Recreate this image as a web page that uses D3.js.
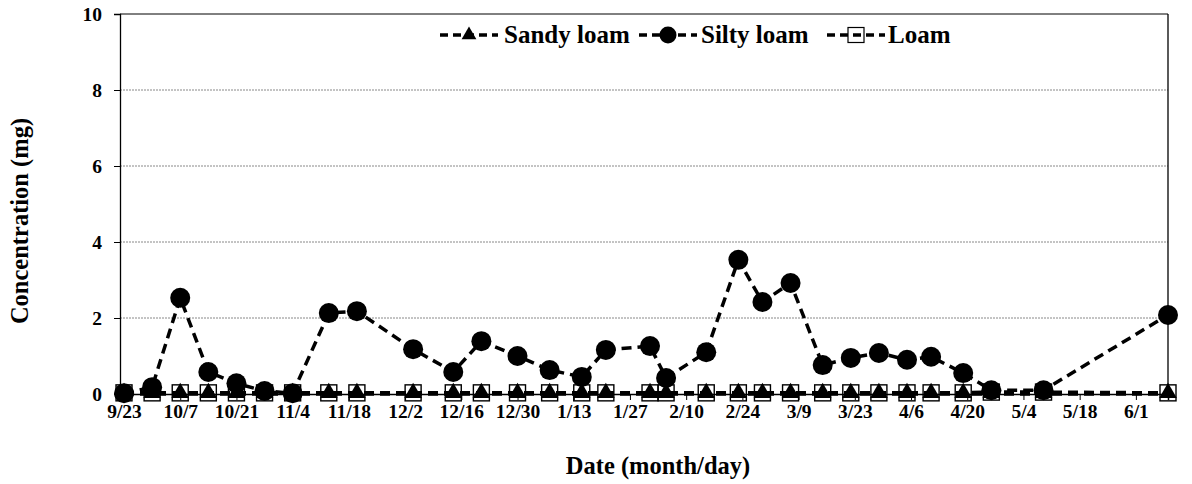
<!DOCTYPE html>
<html><head><meta charset="utf-8">
<script src="https://cdn.jsdelivr.net/npm/d3@7"></script>
<style>
body{margin:0;background:#fff;}
svg text{font-family:"Liberation Serif","Times New Roman",Times,serif;font-weight:bold;fill:#000;}
</style></head>
<body><svg id="c" width="1192" height="484"></svg>
<script>
const dates = ["2011-09-23","2011-09-30","2011-10-07","2011-10-14","2011-10-21","2011-10-28","2011-11-04","2011-11-13","2011-11-20","2011-12-04","2011-12-14","2011-12-21","2011-12-30","2012-01-07","2012-01-15","2012-01-21","2012-02-01","2012-02-05","2012-02-15","2012-02-23","2012-02-29","2012-03-07","2012-03-15","2012-03-22","2012-03-29","2012-04-05","2012-04-11","2012-04-19","2012-04-26","2012-05-09","2012-06-09"];
const sandyLoam = [0,0,0,0,0,0,0,0,0,0,0,0,0,0,0,0,0,0,0,0,0,0,0,0,0,0,0,0,0,0,0];
const siltyLoam = [0.02,0.18,2.53,0.58,0.28,0.08,0.02,2.13,2.18,1.18,0.58,1.39,1.0,0.63,0.45,1.16,1.26,0.42,1.1,3.53,2.42,2.92,0.76,0.95,1.08,0.9,0.98,0.55,0.1,0.1,2.08];
const loam = [0.03,0.03,0.03,0.03,0.03,0.03,0.03,0.03,0.03,0.03,0.03,0.03,0.03,0.03,0.03,0.03,0.03,0.03,0.03,0.03,0.03,0.03,0.03,0.03,0.03,0.03,0.03,0.03,0.05,0.05,0.03];
const tickDates = ["2011-09-23","2011-10-07","2011-10-21","2011-11-04","2011-11-18","2011-12-02","2011-12-16","2011-12-30","2012-01-13","2012-01-27","2012-02-10","2012-02-24","2012-03-09","2012-03-23","2012-04-06","2012-04-20","2012-05-04","2012-05-18","2012-06-01"];
const yTicks = [0,2,4,6,8,10];
const seriesNames = ["Sandy loam","Silty loam","Loam"];

const FONT = '"Liberation Serif","Times New Roman",Times,serif';
const parse = d3.timeParse("%Y-%m-%d");
const svg = d3.select("#c");
const L=120,R=1168,T=14,B=394;
const x = d3.scaleTime().domain([parse("2011-09-22"), parse("2012-06-09")]).range([L,R]);
const y = d3.scaleLinear().domain([0,10]).range([B,T]);

svg.append("g").selectAll("line").data(yTicks.filter(v=>v>0 && v<10)).join("line")
  .attr("x1",L).attr("x2",R).attr("y1",d=>y(d)).attr("y2",d=>y(d))
  .attr("stroke","#888").attr("stroke-width",1).attr("stroke-dasharray","2,1");
svg.append("line").attr("x1",L).attr("x2",R).attr("y1",T).attr("y2",T).attr("stroke","#000").attr("stroke-width",1);
svg.append("line").attr("x1",R).attr("x2",R).attr("y1",T).attr("y2",B).attr("stroke","#000").attr("stroke-width",1.3);

const yAxis = svg.append("g").attr("transform",`translate(${L},0)`)
  .call(d3.axisLeft(y).tickValues(yTicks).tickFormat(d3.format("d")).tickSize(6).tickPadding(12));
yAxis.attr("font-family",FONT);
yAxis.select(".domain").attr("stroke","#000").attr("stroke-width",1.3);
yAxis.selectAll("text").style("font-size","19.5px");
const xAxis = svg.append("g").attr("transform",`translate(0,${B})`)
  .call(d3.axisBottom(x).tickValues(tickDates.map(parse)).tickFormat(d3.timeFormat("%-m/%-d")).tickSize(6).tickPadding(4));
xAxis.attr("font-family",FONT);
xAxis.select(".domain").attr("stroke","#000").attr("stroke-width",1.5);
xAxis.selectAll("text").style("font-size","19.5px");

svg.append("text").attr("x",658).attr("y",474).attr("text-anchor","middle").style("font-size","24.5px").text("Date (month/day)");
svg.append("text").attr("transform","translate(28,221) rotate(-90)").attr("text-anchor","middle").style("font-size","24.5px").text("Concentration (mg)");

const pts = arr => arr.map((v,i)=>({d:parse(dates[i]),v}));
const line = d3.line().x(p=>x(p.d)).y(p=>y(p.v));
const dash = "10,6";
const triPath = d3.symbol().type(d3.symbolTriangle).size(135)();
const series = [
  {name:seriesNames[2], data:pts(loam), kind:"square"},
  {name:seriesNames[0], data:pts(sandyLoam), kind:"tri"},
  {name:seriesNames[1], data:pts(siltyLoam), kind:"circle"}
];
function marker(g,kind){
  if(kind==="circle") g.append("circle").attr("r",10).attr("fill","#000");
  else if(kind==="tri") g.append("path").attr("d",triPath).attr("fill","#000").attr("transform","translate(0,-1)");
  else g.append("rect").attr("x",-8).attr("y",-8).attr("width",16).attr("height",16).attr("fill","none").attr("stroke","#000").attr("stroke-width",1.4);
}
series.forEach(s=>{
  svg.append("path").datum(s.data).attr("d",line).attr("fill","none").attr("stroke","#000").attr("stroke-width",3.5).attr("stroke-dasharray",dash);
});
series.forEach(s=>{
  svg.append("g").selectAll("g").data(s.data).join("g")
    .attr("transform",p=>`translate(${x(p.d)},${y(p.v)})`)
    .each(function(){marker(d3.select(this),s.kind);});
});

const leg = [{kind:"tri",x:440,tx:504,name:seriesNames[0]},{kind:"circle",x:639,tx:701,name:seriesNames[1]},{kind:"square",x:827,tx:888,name:seriesNames[2]}];
leg.forEach(l=>{
  const g = svg.append("g").attr("transform",`translate(${l.x},35)`);
  g.append("line").attr("x1",0).attr("x2",58).attr("y1",0).attr("y2",0).attr("stroke","#000").attr("stroke-width",3.5).attr("stroke-dasharray","8,5");
  const m = g.append("g").attr("transform","translate(29,0)");
  if(l.kind==="circle"){m.append("circle").attr("r",8.5).attr("fill","#000");}
  else if(l.kind==="tri"){m.append("path").attr("d",d3.symbol().type(d3.symbolTriangle).size(95)()).attr("fill","#000");}
  else {m.append("rect").attr("x",-8).attr("y",-7.5).attr("width",16).attr("height",15).attr("fill","none").attr("stroke","#000").attr("stroke-width",1.2);}
  svg.append("text").attr("x",l.tx).attr("y",43).style("font-size","25px").text(l.name);
});
svg.selectAll("text").style("font-family",FONT);
</script></body></html>
